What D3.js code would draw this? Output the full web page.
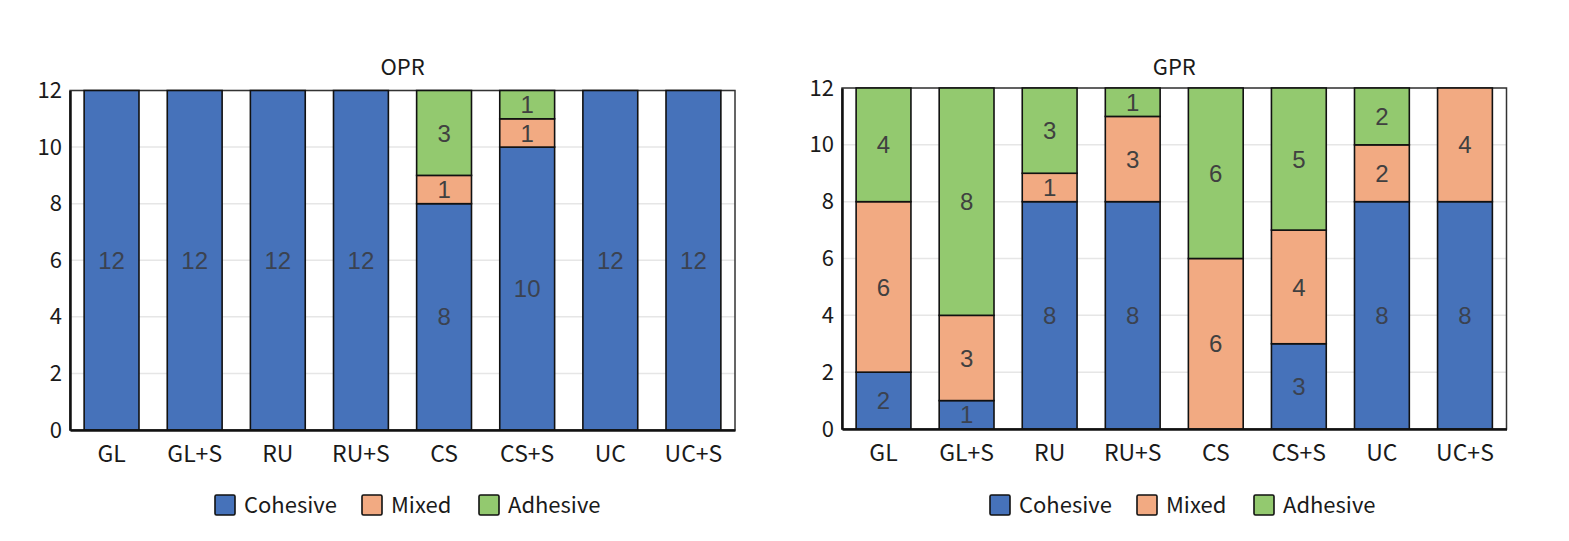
<!DOCTYPE html>
<html>
<head>
<meta charset="utf-8">
<script src="https://cdn.jsdelivr.net/npm/d3@7"></script>
<style>
  body { margin: 0; background: #fff; }
</style>
</head>
<body>
<div id="chart"></div>
<script>
const categories = ["GL", "GL+S", "RU", "RU+S", "CS", "CS+S", "UC", "UC+S"];
const seriesNames = ["Cohesive", "Mixed", "Adhesive"];
const colors = ["#4672BA", "#F2AA82", "#93C96F"];
const yTicks = [0, 2, 4, 6, 8, 10, 12];

const oprCohesive = [12, 12, 12, 12, 8, 10, 12, 12];
const oprMixed    = [0, 0, 0, 0, 1, 1, 0, 0];
const oprAdhesive = [0, 0, 0, 0, 3, 1, 0, 0];

const gprCohesive = [2, 1, 8, 8, 0, 3, 8, 8];
const gprMixed    = [6, 3, 1, 3, 6, 4, 2, 4];
const gprAdhesive = [4, 8, 3, 1, 6, 5, 2, 0];

const svg = d3.select("#chart").append("svg")
    .attr("width", 1569).attr("height", 541);

const axisFont = "'Noto Sans CJK JP', 'Noto Sans', sans-serif";
const labelFont = "'Liberation Sans', Arial, sans-serif";

function drawPanel(opt) {
    let rows = categories.map((c, i) => ({
        cat: c, Cohesive: opt.data[0][i], Mixed: opt.data[1][i], Adhesive: opt.data[2][i]
    }));
    let stack = d3.stack().keys(seriesNames)(rows);

    let x = d3.scaleBand().domain(categories)
        .range([opt.left, opt.right]).paddingInner(0.34).paddingOuter(0.17);
    let y = d3.scaleLinear().domain([0, 12]).range([opt.bottom, opt.top]);

    let g = svg.append("g");

    // gridlines
    g.append("g").selectAll("line").data(yTicks).join("line")
        .attr("x1", opt.left).attr("x2", opt.right)
        .attr("y1", d => y(d)).attr("y2", d => y(d))
        .attr("stroke", "#e6e6e6").attr("stroke-width", 1.5);

    // frame
    g.append("rect")
        .attr("x", opt.left).attr("y", opt.top)
        .attr("width", opt.right - opt.left).attr("height", opt.bottom - opt.top)
        .attr("fill", "none").attr("stroke", "#333").attr("stroke-width", 1.5);

    // bars
    stack.forEach((s, si) => {
        g.append("g").selectAll("rect").data(s.filter(d => d[1] - d[0] > 0)).join("rect")
            .attr("x", d => x(d.data.cat))
            .attr("y", d => y(d[1]))
            .attr("width", x.bandwidth())
            .attr("height", d => y(d[0]) - y(d[1]))
            .attr("fill", colors[si])
            .attr("stroke", "#111").attr("stroke-width", 1.6);
    });

    // value labels
    stack.forEach((s, si) => {
        g.append("g").selectAll("text").data(s.filter(d => d[1] - d[0] > 0)).join("text")
            .attr("x", d => x(d.data.cat) + x.bandwidth() / 2)
            .attr("y", d => (y(d[0]) + y(d[1])) / 2)
            .attr("dy", "0.36em")
            .attr("text-anchor", "middle")
            .attr("font-family", labelFont).attr("font-size", 24)
            .attr("fill", si === 0 ? "#3b4250" : "#404040")
            .text(d => d[1] - d[0]);
    });

    // left and bottom axis lines
    let yAxis = g.append("g").attr("transform", `translate(${opt.left},0)`)
        .call(d3.axisLeft(y).tickValues(yTicks).tickSize(0).tickPadding(8));
    yAxis.select(".domain").attr("stroke", "#111").attr("stroke-width", 2.5);
    yAxis.selectAll("text").attr("font-family", axisFont).attr("font-size", 22).attr("fill", "#1a1a1a");

    let xAxis = g.append("g").attr("transform", `translate(0,${opt.bottom})`)
        .call(d3.axisBottom(x).tickSize(0).tickPadding(16));
    xAxis.select(".domain").attr("stroke", "#111").attr("stroke-width", 2.5);
    xAxis.selectAll("text").attr("font-family", axisFont).attr("font-size", 23).attr("fill", "#1a1a1a");

    // title
    g.append("text")
        .attr("x", (opt.left + opt.right) / 2).attr("y", 67).attr("dy", "0.36em")
        .attr("text-anchor", "middle")
        .attr("font-family", axisFont).attr("font-size", 22).attr("fill", "#1a1a1a")
        .text(opt.title);

    // legend
    let lg = g.append("g").attr("transform", `translate(${opt.legendX},505)`);
    let offsets = [0, 147, 264];
    seriesNames.forEach((name, i) => {
        lg.append("rect")
            .attr("x", offsets[i]).attr("y", -10)
            .attr("width", 20).attr("height", 20)
            .attr("rx", 1.5)
            .attr("fill", colors[i]).attr("stroke", "#111").attr("stroke-width", 1.6);
        lg.append("text")
            .attr("x", offsets[i] + 29).attr("y", 0).attr("dy", "0.36em")
            .attr("font-family", axisFont).attr("font-size", 22).attr("fill", "#1a1a1a")
            .text(name);
    });
}

drawPanel({
    title: "OPR", data: [oprCohesive, oprMixed, oprAdhesive],
    left: 70, right: 735, top: 90.5, bottom: 430, legendX: 215
});
drawPanel({
    title: "GPR", data: [gprCohesive, gprMixed, gprAdhesive],
    left: 842, right: 1506.5, top: 88, bottom: 429, legendX: 990
});
</script>
</body>
</html>
